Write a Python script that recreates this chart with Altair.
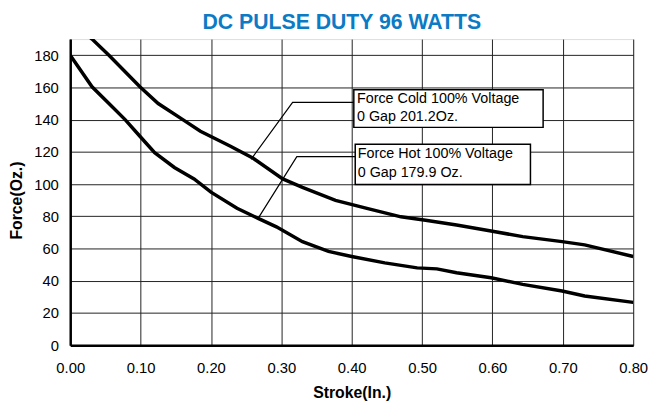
import altair as alt
import pandas as pd

# Curve data (Stroke in inches, Force in ounces)
cold_x = [0.000, 0.031, 0.055, 0.099, 0.125, 0.160, 0.185, 0.227, 0.260, 0.302, 0.330,
          0.377, 0.423, 0.470, 0.505, 0.549, 0.598, 0.643, 0.699, 0.731, 0.800]
cold_y = [201.2, 190.0, 180.0, 160.4, 150.0, 140.0, 132.8, 123.6, 116.0, 103.2, 98.0,
          89.9, 84.8, 79.7, 77.6, 74.6, 70.9, 67.4, 64.3, 62.3, 55.1]

hot_x = [0.000, 0.031, 0.055, 0.078, 0.099, 0.120, 0.148, 0.176, 0.200, 0.237, 0.267,
         0.293, 0.330, 0.367, 0.400, 0.447, 0.493, 0.521, 0.549, 0.598, 0.643, 0.699,
         0.731, 0.800]
hot_y = [179.9, 160.4, 150.0, 140.0, 129.7, 119.5, 110.3, 103.2, 95.0, 85.0, 78.7,
         73.5, 64.3, 58.2, 55.1, 51.1, 48.0, 47.4, 45.0, 41.9, 37.8, 33.7,
         30.6, 26.6]

x_ticks = [0.0, 0.1, 0.2, 0.3, 0.4, 0.5, 0.6, 0.7, 0.8]
y_ticks = [0, 20, 40, 60, 80, 100, 120, 140, 160, 180]

# Annotations (data units)
cold_leader_x = [0.257, 0.316, 0.403]
cold_leader_y = [115.4, 150.7, 150.7]
hot_leader_x = [0.267, 0.322, 0.405]
hot_leader_y = [78.7, 117.0, 117.0]

box_x = [0.403, 0.405]
box_x2 = [0.672, 0.654]
box_y = [158.5, 124.8]
box_y2 = [135.2, 99.7]

label_text = ["Force Cold 100% Voltage", "0 Gap 201.2Oz.",
              "Force Hot 100% Voltage", "0 Gap 179.9 Oz."]
label_x = [0.4075, 0.4075, 0.4085, 0.4085]
label_y = [153.0, 141.4, 118.7, 107.1]

curves = pd.DataFrame({
    "x": cold_x + hot_x,
    "y": cold_y + hot_y,
    "series": ["cold"] * len(cold_x) + ["hot"] * len(hot_x),
    "order": list(range(len(cold_x))) + list(range(len(hot_x))),
})
leaders = pd.DataFrame({
    "x": cold_leader_x + hot_leader_x,
    "y": cold_leader_y + hot_leader_y,
    "series": ["cold"] * 3 + ["hot"] * 3,
    "order": [0, 1, 2, 0, 1, 2],
})
boxes = pd.DataFrame({"x": box_x, "x2": box_x2, "y": box_y, "y2": box_y2})
labels = pd.DataFrame({"x": label_x, "y": label_y, "t": label_text})

xscale = alt.Scale(domain=[0, 0.8], nice=False, zero=False)
yscale = alt.Scale(domain=[0, 190], nice=False, zero=True)

xaxis = alt.Axis(values=x_ticks, format=".2f", title="Stroke(In.)",
                 labelFontSize=15, labelPadding=16, tickSize=0,
                 labelOverlap=False, labelFlush=False, labelBound=False,
                 titleFontSize=16, titleFontWeight="bold", titlePadding=9,
                 grid=True, gridColor="#222", gridWidth=1,
                 domainColor="black", domainWidth=2.5,
                 labelColor="black", titleColor="black",
                 labelFont="Liberation Sans", titleFont="Liberation Sans")
yaxis = alt.Axis(values=y_ticks, title="Force(Oz.)",
                 labelFontSize=15, labelPadding=12, tickSize=0,
                 labelOverlap=False, labelFlush=False, labelBound=False,
                 titleFontSize=16, titleFontWeight="bold", titlePadding=9,
                 titleY=163,
                 grid=True, gridColor="#222", gridWidth=1,
                 domainColor="black", domainWidth=2.5,
                 labelColor="black", titleColor="black",
                 labelFont="Liberation Sans", titleFont="Liberation Sans")

X = alt.X("x:Q", scale=xscale, axis=xaxis)
Y = alt.Y("y:Q", scale=yscale, axis=yaxis)

lines = alt.Chart(curves).mark_line(color="black", strokeWidth=3.5, clip=True).encode(
    x=X, y=Y, detail="series:N", order="order:Q",
)

leader = alt.Chart(leaders).mark_line(color="black", strokeWidth=1.2).encode(
    x=X, y=Y, detail="series:N", order="order:Q",
)

rects = alt.Chart(boxes).mark_rect(fill="white", stroke="black", strokeWidth=1.5).encode(
    x=X, x2="x2:Q", y=Y, y2="y2:Q",
)

texts = alt.Chart(labels).mark_text(align="left", baseline="middle", fontSize=14.5,
                                    font="Liberation Sans", color="black").encode(
    x=X, y=Y, text="t:N",
)

chart = alt.layer(lines, leader, rects, texts).properties(
    width=570, height=310,
    title=alt.TitleParams("DC PULSE DUTY 96 WATTS", fontSize=21.5, font="Liberation Sans",
                          fontWeight="bold", color="#0b7bc5", dx=-10, offset=6),
    autosize=alt.AutoSizeParams(type="none"),
    padding={"left": 63, "top": 29, "right": 16, "bottom": 55},
).configure_view(stroke="black", strokeWidth=1.5).configure(background="white")

chart.save("out.html", embed_options={"renderer": "svg", "actions": False})
